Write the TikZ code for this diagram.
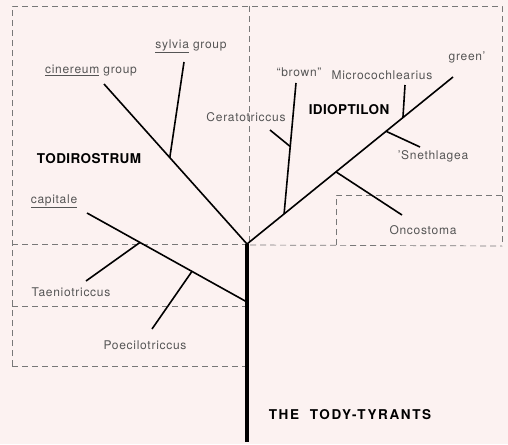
\documentclass[tikz,border=0pt]{standalone}
\usepackage{fontspec}
\setmainfont{TeX Gyre Heros}
\newfontfamily\labfont[LetterSpace=6]{TeX Gyre Heros}
\newfontfamily\genfont[LetterSpace=3]{TeX Gyre Heros}
\newfontfamily\titfont[LetterSpace=12]{TeX Gyre Heros}
\usetikzlibrary{calc}
\definecolor{paper}{RGB}{252,242,241}
\definecolor{labgray}{RGB}{85,85,85}
\definecolor{boxgray}{RGB}{120,120,120}
\begin{document}
\begin{tikzpicture}[x=1pt,y=-1pt,
    branch/.style={line width=1.6pt},
    trunk/.style={line width=4.6pt},
    frame/.style={boxgray,line width=0.7pt,dash pattern=on 6pt off 4pt},
    lab/.style={font=\labfont\fontsize{12}{14}\selectfont,text=labgray,inner sep=0pt},
    genus/.style={font=\genfont\fontsize{13.5}{16}\selectfont\bfseries,inner sep=0pt}]
    \fill[paper] (0,0) rectangle (508,444);
    \useasboundingbox (0,0) rectangle (508,444);

    \draw[frame] (12,366) -- (12,6) -- (502,6) -- (502,246);
    \draw[frame] (249,6) -- (249,242);
    \draw[frame] (12,244) -- (245,244);
    \draw[frame] (250,245) -- (502,246);
    \draw[frame] (336,245) -- (336,195) -- (502,195);
    \draw[frame] (12,306) -- (245,306);
    \draw[frame] (12,366) -- (245,366);

    \coordinate (root) at (247,244);
    \coordinate (base) at (247,442);
    \coordinate (cin) at (104,84);
    \coordinate (syl) at (184,62);
    \coordinate (sylj) at ($(cin)!0.46!(root)$);
    \coordinate (cap) at (87,213);
    \coordinate (capj) at (247,302);
    \coordinate (taej) at ($(cap)!0.331!(capj)$);
    \coordinate (tae) at (86,281);
    \coordinate (poej) at ($(cap)!0.656!(capj)$);
    \coordinate (poe) at (152,329);
    \coordinate (grn) at (453,77);
    \coordinate (brnj) at ($(root)!0.18!(grn)$);
    \coordinate (brn) at (296,83);
    \coordinate (cerj) at ($(brnj)!0.515!(brn)$);
    \coordinate (cer) at (270,130);
    \coordinate (oncj) at ($(root)!0.432!(grn)$);
    \coordinate (onc) at (402,215);
    \coordinate (snej) at ($(root)!0.675!(grn)$);
    \coordinate (sne) at (420,147);
    \coordinate (micj) at ($(root)!0.757!(grn)$);
    \coordinate (mic) at (405,85);

    \draw[trunk] (root) -- (base);
    \draw[branch] (cin) -- (root);
    \draw[branch] (syl) -- (sylj);
    \draw[branch] (cap) -- (capj);
    \draw[branch] (tae) -- (taej);
    \draw[branch] (poe) -- (poej);
    \draw[branch] (root) -- (grn);
    \draw[branch] (brnj) -- (brn);
    \draw[branch] (cer) -- (cerj);
    \draw[branch] (onc) -- (oncj);
    \draw[branch] (sne) -- (snej);
    \draw[branch] (mic) -- (micj);

    \node[lab] (sylvia) at (191,46) {\underline{sylvia} group};
    \node[lab] (cinereum) at (91,71) {\underline{cinereum} group};
    \node[lab] (capitale) at (54,201) {\underline{capitale}};
    \node[lab] (taenio) at (71,292) {Taeniotriccus};
    \node[lab] (poecilo) at (145,345) {Poecilotriccus};
    \node[lab] (cerato) at (246,117) {Ceratotriccus};
    \node[lab] (brown) at (299,72) {“brown”};
    \node[lab] (micro) at (382,75) {Microcochlearius};
    \node[lab] (green) at (467,57) {green’};
    \node[lab] (sneth) at (433,156) {’Snethlagea};
    \node[lab] (onco) at (423,230) {Oncostoma};
    \node[genus] (todi) at (89,159) {TODIROSTRUM};
    \node[genus] (idio) at (349,110) {IDIOPTILON};
    \node[genus,font=\titfont\fontsize{13.5}{16}\selectfont\bfseries] (tody) at (350,415) {THE\ \ TODY-TYRANTS};
\end{tikzpicture}
\end{document}
